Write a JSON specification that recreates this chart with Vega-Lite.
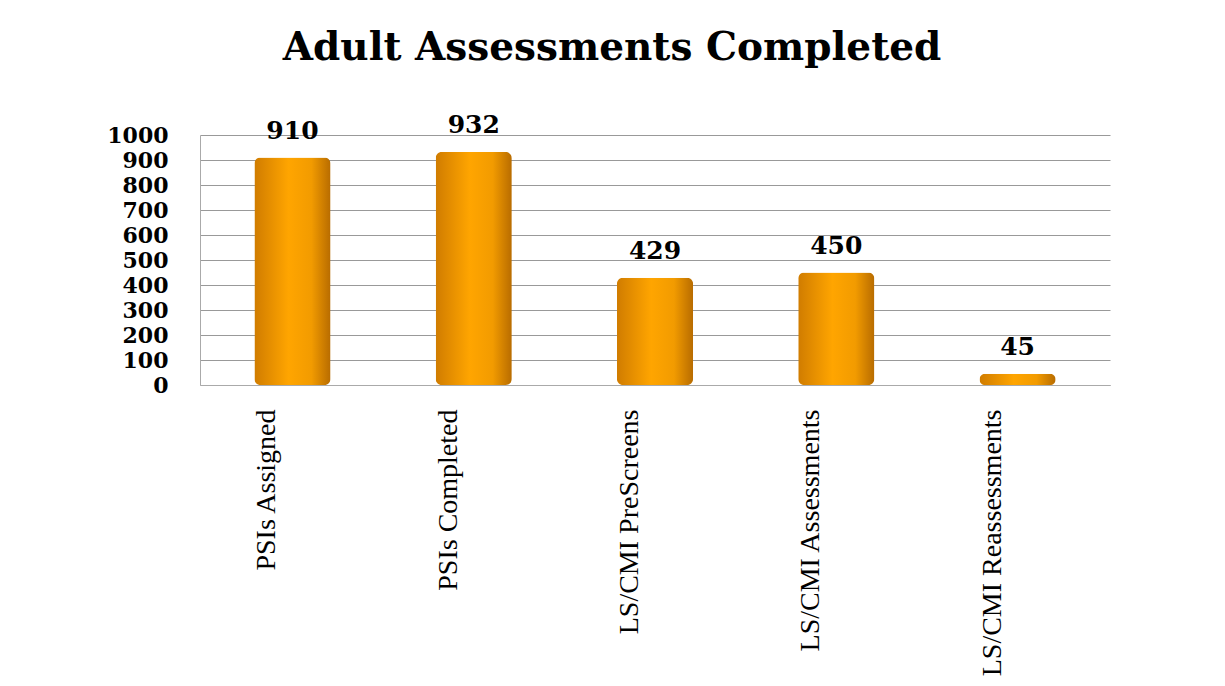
{
  "$schema": "https://vega.github.io/schema/vega-lite/v6.json",
  "width": 910,
  "height": 250,
  "autosize": {"type": "none"},
  "padding": {"left": 200, "top": 135, "right": 115, "bottom": 301},
  "background": "white",
  "title": {
    "text": "Adult Assessments Completed",
    "font": "DejaVu Serif",
    "fontSize": 39,
    "fontWeight": "bold",
    "color": "black",
    "anchor": "middle",
    "dx": -43,
    "offset": 45
  },
  "data": {
    "values": [
      {"category": "PSIs Assigned", "value": 910},
      {"category": "PSIs Completed", "value": 932},
      {"category": "LS/CMI PreScreens", "value": 429},
      {"category": "LS/CMI Assessments", "value": 450},
      {"category": "LS/CMI Reassessments", "value": 45}
    ]
  },
  "encoding": {
    "x": {
      "field": "category",
      "type": "nominal",
      "sort": null,
      "scale": {"paddingInner": 0.58, "paddingOuter": 0.3},
      "axis": {
        "title": null,
        "labelAngle": -90,
        "labelAlign": "right",
        "labelBaseline": "middle",
        "labelFont": "Liberation Serif",
        "labelFontSize": 28,
        "labelColor": "black",
        "labelPadding": 24,
        "labelOffset": -25,
        "ticks": false,
        "domainColor": "#aaaaaa",
        "labelLimit": 400
      }
    },
    "y": {
      "field": "value",
      "type": "quantitative",
      "scale": {"domain": [0, 1000], "nice": false},
      "axis": {
        "title": null,
        "format": "d",
        "values": [0, 100, 200, 300, 400, 500, 600, 700, 800, 900, 1000],
        "labelFont": "DejaVu Serif",
        "labelFontSize": 22,
        "labelFontWeight": "bold",
        "labelColor": "black",
        "labelPadding": 32,
        "ticks": false,
        "domainColor": "#aaaaaa",
        "gridColor": "#999999",
        "gridWidth": 1.2
      }
    }
  },
  "layer": [
    {
      "mark": {
        "type": "bar",
        "cornerRadius": 6,
        "color": {
          "gradient": "linear",
          "x1": 0, "x2": 1, "y1": 0, "y2": 0,
          "stops": [
            {"offset": 0, "color": "#D07C00"},
            {"offset": 0.45, "color": "#FFA500"},
            {"offset": 0.75, "color": "#F29B00"},
            {"offset": 1, "color": "#B86C00"}
          ]
        }
      }
    },
    {
      "mark": {
        "type": "text",
        "baseline": "bottom",
        "dy": -14,
        "font": "DejaVu Serif",
        "fontSize": 25,
        "fontWeight": "bold",
        "color": "black"
      },
      "encoding": {"text": {"field": "value", "type": "quantitative"}}
    }
  ],
  "config": {"view": {"stroke": null}}
}
